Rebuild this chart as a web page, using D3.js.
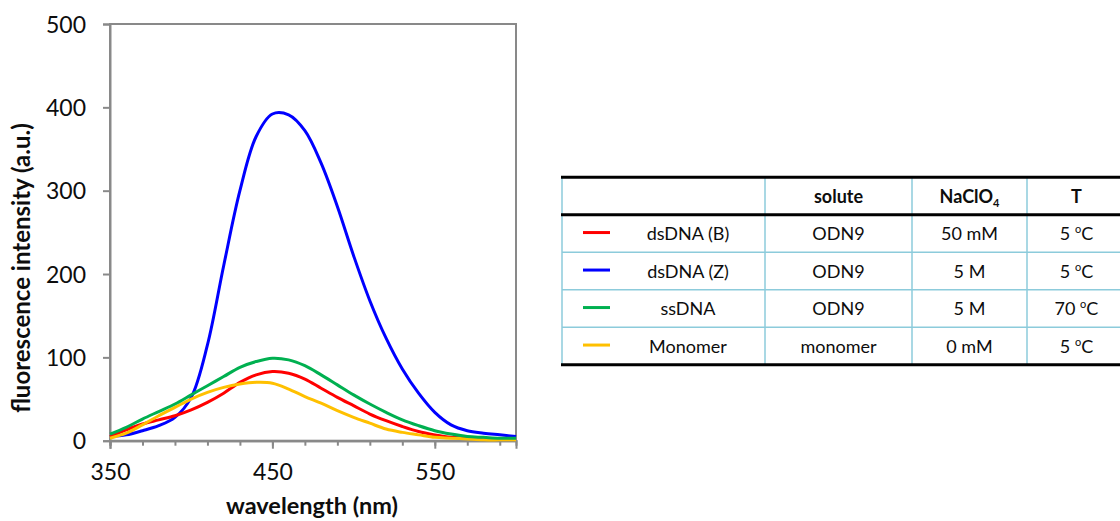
<!DOCTYPE html>
<html>
<head>
<meta charset="utf-8">
<script src="https://cdn.jsdelivr.net/npm/d3@7"></script>
<style>
  body { margin: 0; background: #fff; }
  svg { display: block; font-family: Lato, "Open Sans", sans-serif; }
</style>
</head>
<body>
<div id="chart"></div>
<script>
// ===========Data
var wavelengths = [350, 360, 370, 380, 390, 400, 410, 420, 430, 440, 450, 460, 470,
                   480, 490, 500, 510, 520, 530, 540, 550, 560, 570, 580, 590, 600];

var dsDNA_B = [5, 13, 20, 25, 30, 37, 46, 57, 70, 79, 83, 81, 74,
               63, 52, 42, 32, 24, 17, 11, 7, 4, 3, 2, 2, 2];
var dsDNA_Z = [5, 7, 12, 18, 28, 52, 115, 210, 300, 365, 392, 391, 372,
               333, 281, 222, 168, 123, 86, 57, 34, 19, 12, 9, 7, 5];
var ssDNA   = [8, 16, 26, 35, 44, 55, 66, 77, 88, 95, 99, 97, 90,
               79, 67, 55, 44, 34, 25, 18, 12, 8, 5, 4, 3, 3];
var monomer = [3, 9, 19, 30, 40, 50, 58, 64, 68, 70, 69, 62, 53,
               45, 36, 28, 21, 14, 10, 7, 4, 3, 2, 1, 1, 1];

var seriesNames = ["dsDNA (B)", "dsDNA (Z)", "ssDNA", "Monomer"];
var seriesValues = [dsDNA_B, dsDNA_Z, ssDNA, monomer];
var seriesColors = ["#ff0000", "#0000ff", "#00b050", "#ffc000"];

// table columns
var solutes = ["ODN9", "ODN9", "ODN9", "monomer"];
var saltConc = ["50 mM", "5 M", "5 M", "0 mM"];
var temps = [5, 5, 70, 5];

var xTicksMajor = [350, 450, 550];
var yTicks = [0, 100, 200, 300, 400, 500];

// ===========Layout
var svgWidth = 1120, svgHeight = 521;
var plot = { left: 110, right: 516, top: 24, bottom: 440.7 };
var axisGray = "#898989";
var textColor = "#0d0d0d";

var svg = d3.select("#chart").append("svg")
    .attr("width", svgWidth)
    .attr("height", svgHeight);

var xScale = d3.scaleLinear().domain([350, 600]).range([plot.left, plot.right]);
var yScale = d3.scaleLinear().domain([0, 500]).range([plot.bottom, plot.top]);

// plot frame (top + right borders)
svg.append("rect")
    .attr("x", plot.left)
    .attr("y", plot.top)
    .attr("width", plot.right - plot.left)
    .attr("height", plot.bottom - plot.top)
    .attr("fill", "none")
    .attr("stroke", axisGray)
    .attr("stroke-width", 2);

// ===========Axes
var minorX = svg.append("g")
    .attr("transform", `translate(0, ${plot.bottom})`)
    .call(d3.axisBottom(xScale).tickValues(d3.range(350, 600, 20)).tickSize(5).tickFormat(""));

var majorX = svg.append("g")
    .attr("transform", `translate(0, ${plot.bottom})`)
    .call(d3.axisBottom(xScale).tickValues(xTicksMajor).tickSize(8).tickPadding(15));

var yAxis = svg.append("g")
    .attr("transform", `translate(${plot.left}, 0)`)
    .call(d3.axisLeft(yScale).tickValues(yTicks).tickSize(7).tickPadding(17));

[minorX, majorX, yAxis].forEach(function(g) {
    g.select(".domain").attr("stroke", axisGray).attr("stroke-width", 2);
    g.selectAll(".tick line").attr("stroke", axisGray).attr("stroke-width", 2);
    g.selectAll(".tick text")
        .attr("fill", textColor)
        .attr("font-family", "Lato, sans-serif")
        .attr("font-size", 23);
});
yAxis.selectAll(".tick text").attr("dy", "0.36em");

// axis titles
svg.append("text")
    .attr("x", 312)
    .attr("y", 514)
    .attr("text-anchor", "middle")
    .attr("font-size", 23.5)
    .attr("font-weight", "bold")
    .attr("fill", textColor)
    .text("wavelength (nm)");

svg.append("text")
    .attr("transform", "translate(30, 268) rotate(-90)")
    .attr("text-anchor", "middle")
    .attr("font-size", 24)
    .attr("font-weight", "bold")
    .attr("fill", textColor)
    .text("fluorescence intensity (a.u.)");

// ===========Spectra
var line = d3.line()
    .x(function(d, i) { return xScale(wavelengths[i]); })
    .y(function(d) { return yScale(d); })
    .curve(d3.curveCatmullRom.alpha(0.5));

// draw order: blue at the back, then red, yellow, green on top
var drawOrder = [1, 0, 3, 2];
svg.append("g").selectAll("path")
    .data(drawOrder)
    .enter()
    .append("path")
    .attr("d", function(k) { return line(seriesValues[k]); })
    .attr("fill", "none")
    .attr("stroke", function(k) { return seriesColors[k]; })
    .attr("stroke-width", 3)
    .attr("stroke-linejoin", "round");

// ===========Legend table
var tbl = { left: 562, right: 1130, top: 177.3, rowH: 37.5 };
var colEdges = [562, 765, 912, 1027];
var colCenters = [688, 838.5, 969.5, 1076.5];
var tblBottom = tbl.top + tbl.rowH * 5;
var gridBlue = "#8ccbdb";
var tableG = svg.append("g");

// vertical rules
tableG.selectAll("line.col")
    .data(colEdges)
    .enter()
    .append("line")
    .attr("x1", d => d).attr("x2", d => d)
    .attr("y1", tbl.top).attr("y2", tblBottom)
    .attr("stroke", gridBlue)
    .attr("stroke-width", 1.5);

// thin row rules
tableG.selectAll("line.row")
    .data([2, 3, 4])
    .enter()
    .append("line")
    .attr("x1", tbl.left).attr("x2", tbl.right)
    .attr("y1", d => tbl.top + d * tbl.rowH)
    .attr("y2", d => tbl.top + d * tbl.rowH)
    .attr("stroke", gridBlue)
    .attr("stroke-width", 1.5);

// heavy rules: top, under header, bottom
tableG.selectAll("line.heavy")
    .data([0, 1, 5])
    .enter()
    .append("line")
    .attr("x1", tbl.left - 1).attr("x2", tbl.right)
    .attr("y1", d => tbl.top + d * tbl.rowH)
    .attr("y2", d => tbl.top + d * tbl.rowH)
    .attr("stroke", "#000")
    .attr("stroke-width", 3);

// header
var headY = tbl.top + tbl.rowH / 2;
function cellText(x, y, bold) {
    return tableG.append("text")
        .attr("x", x)
        .attr("y", y)
        .attr("dy", "0.36em")
        .attr("text-anchor", "middle")
        .attr("font-size", 18)
        .attr("font-weight", bold ? "bold" : "normal")
        .attr("fill", textColor);
}
cellText(colCenters[1], headY, true).text("solute");
var naclo = cellText(colCenters[2], headY, true);
naclo.append("tspan").text("NaClO");
naclo.append("tspan").attr("font-size", 11).attr("dy", 4).text("4");
cellText(colCenters[3], headY, true).text("T");

// body rows
seriesNames.forEach(function(name, i) {
    var cy = tbl.top + (i + 1.5) * tbl.rowH;

    tableG.append("line")
        .attr("x1", 583).attr("x2", 610)
        .attr("y1", cy - 1).attr("y2", cy - 1)
        .attr("stroke", seriesColors[i])
        .attr("stroke-width", 3);

    cellText(colCenters[0], cy, false).text(name);
    cellText(colCenters[1], cy, false).text(solutes[i]);
    cellText(colCenters[2], cy, false).text(saltConc[i]);

    var t = cellText(colCenters[3], cy, false);
    t.append("tspan").text(temps[i] + " ");
    t.append("tspan").attr("font-size", 11).attr("dy", -7).text("o");
    t.append("tspan").attr("dy", 7).text("C");
});
</script>
</body>
</html>
